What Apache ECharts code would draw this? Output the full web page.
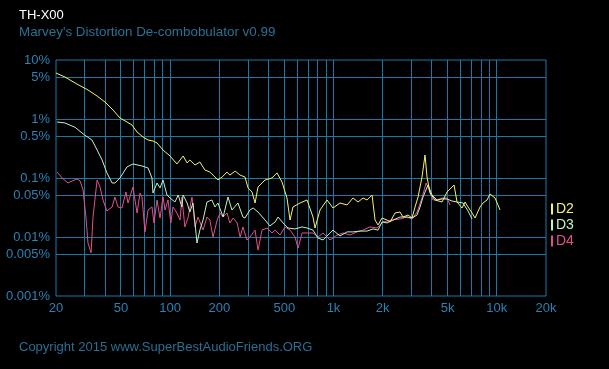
<!DOCTYPE html>
<html>
<head>
<meta charset="utf-8">
<script src="https://cdn.jsdelivr.net/npm/echarts@6/dist/echarts.min.js"></script>
<style>
html,body{margin:0;padding:0;background:#000;}
#c{width:609px;height:369px;}
</style>
</head>
<body>
<div id="c"></div>
<script>
// Frequencies (Hz) and distortion (%)
const d2Freq = [20,22.7,26.2,31.4,35.7,39.9,44.7,49.3,54.4,58.4,62.7,68.2,73.2,78.5,83.1,90.4,99.8,110,115,120,127,132,142,152,163,175,183,196,208,223,232,250,268,287,300,317,331,345,381,420,451,484,519,542,565,624,689,749,771,827,913,993,1096,1210,1317,1413,1517,1605,1722,1796,1874,1982,2127,2220,2381,2555,2666,2860,3026,3157,3294,3484,3634,3738,3900,4184,4618,4956,5244,5470,5706,6124,6389,6663,7051,7355,7894,8233,8711,9087,9750,10460];
const d2Val  = [6.0,5.15,4.07,3.10,2.45,1.94,1.42,1.04,0.89,0.791,0.602,0.495,0.441,0.424,0.392,0.298,0.236,0.173,0.202,0.236,0.180,0.202,0.166,0.187,0.137,0.126,0.112,0.0925,0.104,0.126,0.112,0.131,0.112,0.104,0.0677,0.0579,0.0377,0.0704,0.0925,0.100,0.122,0.0855,0.0458,0.0194,0.0323,0.0377,0.0424,0.0218,0.0142,0.0287,0.0424,0.0310,0.0377,0.0349,0.0458,0.0392,0.0458,0.0424,0.0515,0.0194,0.0160,0.0210,0.0194,0.0180,0.0255,0.0265,0.0218,0.0236,0.0210,0.0323,0.0476,0.104,0.245,0.104,0.0557,0.0424,0.0392,0.0579,0.0677,0.0761,0.0392,0.0310,0.0392,0.0323,0.0255,0.0210,0.0323,0.0377,0.0424,0.0536,0.0458,0.0287];

const d3Freq = [20.3,22.7,26.2,29.9,33.2,35.7,38.3,41.0,44.1,45.9,49.3,54.4,59.2,67.2,73.2,77.4,78.5,83.1,86.7,90.4,95.6,99.8,107,112,118,120,127,132,138,146,152,159,168,180,188,196,211,226,239,260,279,287,308,322,345,381,408,439,458,491,527,581,642,689,749,804,863,926,993,1096,1210,1317,1454,1605,1746,1874,1982,2127,2315,2555,2820,3026,3248,3388,3533,3791,4011,4304,4618,4956,5318,5706,6211,6663,7051];
const d3Val  = [0.890,0.857,0.722,0.536,0.441,0.298,0.202,0.122,0.0823,0.0823,0.100,0.154,0.173,0.160,0.148,0.100,0.0557,0.0823,0.0677,0.0925,0.0515,0.0458,0.0392,0.0515,0.0323,0.0515,0.0377,0.0265,0.0377,0.0079,0.0131,0.0194,0.0392,0.0424,0.0323,0.0377,0.0218,0.0476,0.0287,0.0377,0.0218,0.0210,0.0287,0.0310,0.0265,0.0194,0.0154,0.0180,0.0218,0.0173,0.0142,0.0137,0.0148,0.0142,0.0131,0.0096,0.0089,0.0108,0.0131,0.0104,0.0122,0.0122,0.0126,0.0126,0.0137,0.0131,0.0180,0.0173,0.0194,0.0218,0.0218,0.0210,0.0236,0.0323,0.0476,0.0761,0.0515,0.0424,0.0441,0.0441,0.0407,0.0392,0.0377,0.0276,0.0202];

const d4Freq = [20.3,21.8,23.7,25.1,26.9,28.1,29.3,30.5,31.4,32.8,33.7,35.7,37.2,38.8,41.0,44.1,45.9,47.9,50.7,53.6,55.2,59.2,62.7,65.4,67.2,70.1,73.2,77.4,79.6,83.1,86.7,90.4,93.0,97.0,101,104,110,115,118,123,129,136,142,148,159,168,175,183,194,202,211,223,232,243,257,268,279,295,308,331,345,365,392,420,439,471,505,542,581,607,642,689,749,804,863,952,1051,1144,1263,1394,1517,1674,1848,2011,2283,2555,2820,3026,3248,3484,3686,3846,4068,4304,4618,4956,5170];
const d4Val  = [0.126,0.100,0.0823,0.0890,0.0962,0.0890,0.0626,0.0218,0.0079,0.0054,0.0218,0.0925,0.0704,0.0424,0.0276,0.0323,0.0476,0.0323,0.0310,0.0579,0.0377,0.0704,0.0255,0.0557,0.0476,0.0122,0.0287,0.0323,0.0173,0.0424,0.0210,0.0476,0.0287,0.0424,0.0173,0.0323,0.0255,0.0194,0.0476,0.0148,0.0218,0.0476,0.0148,0.0218,0.0131,0.0218,0.0194,0.0100,0.0194,0.0255,0.0218,0.0255,0.0173,0.0210,0.0173,0.0100,0.0148,0.0089,0.0100,0.0131,0.0060,0.0131,0.0142,0.0117,0.0131,0.0108,0.0148,0.0131,0.0100,0.0065,0.0117,0.0117,0.0117,0.0100,0.0117,0.0089,0.0108,0.0117,0.0108,0.0122,0.0131,0.0148,0.0142,0.0180,0.0194,0.0202,0.0218,0.0202,0.0265,0.0458,0.0823,0.0626,0.0424,0.0424,0.0458,0.0458,0.0349];

const xLabelVals = [20,50,100,200,500,1000,2000,5000,10000,20000];
const xGridVals  = [30,40,50,60,70,80,90,100,200,300,400,500,600,700,800,900,1000,2000,3000,4000,5000,6000,7000,8000,9000,10000];
const yLabelVals = [0.001,0.005,0.01,0.05,0.1,0.5,1,5,10];
const yGridVals  = [0.005,0.01,0.05,0.1,0.5,1,5];
const seriesNames = ['D2','D3','D4'];

const colors = ['#f4f46c','#c2f2c6','#e2508c'];
const gridColor = '#1d78aa';
const labelColor = '#2b82b4';
const font = '"Liberation Sans", Arial, sans-serif';

function pairs(f, v){ return f.map((x,i)=>[x, v[i]]); }

const chart = echarts.init(document.getElementById('c'), null, {renderer:'canvas'});
chart.setOption({
  backgroundColor:'#000',
  animation:false,
  title:{
    text:'TH-X00',
    subtext:"Marvey's Distortion De-combobulator v0.99",
    left:14, top:4, itemGap:4,
    textStyle:{color:'#ffffff', fontSize:13, fontWeight:'normal', fontFamily:font},
    subtextStyle:{color:'#2a7093', fontSize:13.4, fontFamily:font}
  },
  graphic:[{
    type:'text', left:19, top:341,
    style:{text:'Copyright 2015 www.SuperBestAudioFriends.ORG', fill:'#2a6e92', font:'13px '+font}
  }],
  legend:{
    orient:'vertical', left:546, top:197, itemGap:2,
    icon:'rect', itemWidth:2, itemHeight:11,
    textStyle:{fontSize:14, fontFamily:font, padding:[0,0,0,-2]},
    data:seriesNames.map((n,i)=>({name:n, textStyle:{color:colors[i]}}))
  },
  grid:{left:56, right:63, top:60, bottom:73, show:true, borderColor:gridColor, borderWidth:1, backgroundColor:'#000'},
  xAxis:{
    type:'log', logBase:10, min:20, max:20000,
    axisLine:{show:false}, axisTick:{show:false}, splitLine:{show:false},
    axisLabel:{
      customValues:xLabelVals, color:labelColor, fontSize:13, fontFamily:font, margin:6,
      formatter:v=> v>=1000 ? (v/1000)+'k' : String(v)
    }
  },
  yAxis:{
    type:'log', logBase:10, min:0.001, max:10,
    axisLine:{show:false}, axisTick:{show:false}, splitLine:{show:false},
    axisLabel:{
      customValues:yLabelVals, color:labelColor, fontSize:13, fontFamily:font, margin:6,
      formatter:v=> (+v.toPrecision(3))+'%'
    }
  },
  series:[
    {name:'vgrid', type:'custom', silent:true, z:1, clip:false,
     data: xGridVals.map(v=>[v, 1]),
     renderItem:(params, api)=>{
       const cs = params.coordSys;
       const x = Math.floor(api.coord([api.value(0), api.value(1)])[0]) + 0.5;
       return {type:'line', silent:true, shape:{x1:x, y1:cs.y, x2:x, y2:cs.y+cs.height},
               style:{stroke:gridColor, lineWidth:1}};
     }},
    {name:'hgrid', type:'custom', silent:true, z:1, clip:false,
     data: yGridVals.map(v=>[1000, v]),
     renderItem:(params, api)=>{
       const cs = params.coordSys;
       const y = Math.floor(api.coord([api.value(0), api.value(1)])[1]) + 0.5;
       return {type:'line', silent:true, shape:{x1:cs.x, y1:y, x2:cs.x+cs.width, y2:y},
               style:{stroke:gridColor, lineWidth:1}};
     }},
    {name:'D4', type:'line', data:pairs(d4Freq,d4Val), showSymbol:false, symbol:'none', lineStyle:{color:colors[2], width:1}, itemStyle:{color:colors[2]}, z:2},
    {name:'D3', type:'line', data:pairs(d3Freq,d3Val), showSymbol:false, symbol:'none', lineStyle:{color:colors[1], width:1}, itemStyle:{color:colors[1]}, z:3},
    {name:'D2', type:'line', data:pairs(d2Freq,d2Val), showSymbol:false, symbol:'none', lineStyle:{color:colors[0], width:1}, itemStyle:{color:colors[0]}, z:4}
  ]
});
</script>
</body>
</html>
